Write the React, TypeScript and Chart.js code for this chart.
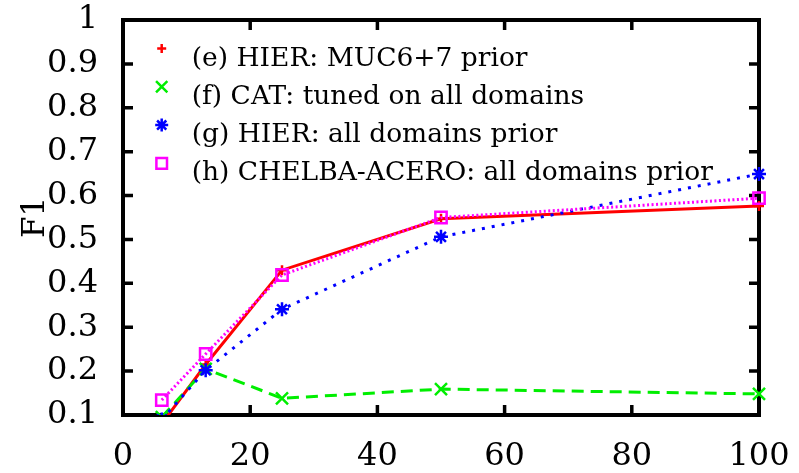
import React, { useEffect, useRef } from "react";
import { Chart, registerables } from "chart.js";

Chart.register(...registerables);

// ---- data ----
const xValues = [6.1, 13, 25, 50, 100];
const hierMucPrior = [0.08, 0.215, 0.43, 0.547, 0.576];
const catTunedAll = [0.095, 0.205, 0.138, 0.159, 0.148];
const hierAllPrior = [0.09, 0.202, 0.341, 0.506, 0.649];
const chelbaAllPrior = [0.134, 0.239, 0.419, 0.55, 0.594];
const seriesLabels = [
  "(e) HIER: MUC6+7 prior",
  "(f) CAT: tuned on all domains",
  "(g) HIER: all domains prior",
  "(h) CHELBA-ACERO: all domains prior",
];
const xTicks = [0, 20, 40, 60, 80, 100];
const yTicks = [0.1, 0.2, 0.3, 0.4, 0.5, 0.6, 0.7, 0.8, 0.9, 1];
const yTitle = "F1";

const SERIF = '"DejaVu Serif", serif';

function drawMarker(ctx: CanvasRenderingContext2D, style: string, x: number, y: number, r: number, color: string, lw: number) {
  ctx.save();
  ctx.strokeStyle = color;
  ctx.lineWidth = lw;
  ctx.setLineDash([]);
  ctx.beginPath();
  if (style === "cross" || style === "star") {
    ctx.moveTo(x - r, y);
    ctx.lineTo(x + r, y);
    ctx.moveTo(x, y - r);
    ctx.lineTo(x, y + r);
  }
  if (style === "crossRot" || style === "star") {
    const d = r * Math.SQRT1_2;
    ctx.moveTo(x - d, y - d);
    ctx.lineTo(x + d, y + d);
    ctx.moveTo(x - d, y + d);
    ctx.lineTo(x + d, y - d);
  }
  if (style === "rect") {
    const d = r * Math.SQRT1_2;
    ctx.rect(x - d, y - d, 2 * d, 2 * d);
  }
  ctx.stroke();
  ctx.restore();
}

const framePlugin = {
  id: "gnuplotFrame",
  beforeDatasetsDraw(chart: any) {
    const { ctx, chartArea } = chart;
    const { left, right, top, bottom } = chartArea;
    ctx.save();
    ctx.strokeStyle = "#000";
    ctx.lineWidth = 4;
    ctx.setLineDash([]);
    ctx.strokeRect(left, top, right - left, bottom - top);
    ctx.lineWidth = 3.5;
    const tl = 10;
    const xs = chart.scales.x;
    const ys = chart.scales.y;
    ctx.beginPath();
    xTicks.forEach((v) => {
      const px = xs.getPixelForValue(v);
      ctx.moveTo(px, bottom);
      ctx.lineTo(px, bottom - tl);
      ctx.moveTo(px, top);
      ctx.lineTo(px, top + tl);
    });
    yTicks.forEach((v) => {
      const py = ys.getPixelForValue(v);
      ctx.moveTo(left, py);
      ctx.lineTo(left + tl, py);
      ctx.moveTo(right, py);
      ctx.lineTo(right - tl, py);
    });
    ctx.stroke();
    ctx.restore();
  },
};

const legendPlugin = {
  id: "insideLegend",
  afterDatasetsDraw(chart: any) {
    const { ctx, chartArea } = chart;
    chart.data.datasets.forEach((ds: any, i: number) => {
      const my = chartArea.top + 28.5 + i * 38.3;
      const mx = chartArea.left + 38.7;
      drawMarker(ctx, ds.pointStyle, mx, my, ds.legendRadius, ds.borderColor, 2.5);
      ctx.save();
      ctx.fillStyle = "#000";
      ctx.font = `26.5px ${SERIF}`;
      ctx.textAlign = "left";
      ctx.textBaseline = "alphabetic";
      ctx.fillText(ds.label, mx + 30, my + 17);
      ctx.restore();
    });
  },
};

function makeSeries(values: number[]) {
  return values.map((v, i) => ({ x: xValues[i], y: v }));
}

export default function App() {
  const ref = useRef<HTMLCanvasElement>(null);

  useEffect(() => {
    if (!ref.current) return;
    const common = {
      fill: false,
      tension: 0,
      borderWidth: 3,
      pointBorderWidth: 2.5,
      pointBackgroundColor: "rgba(0,0,0,0)",
      clip: { left: 0, top: 0, right: 12, bottom: 0 },
    };
    const chart = new Chart(ref.current, {
      type: "line",
      data: {
        datasets: [
          {
            ...common,
            label: seriesLabels[0],
            data: makeSeries(hierMucPrior),
            borderColor: "#ff0000",
            pointBorderColor: "#ff0000",
            pointStyle: "cross",
            pointRadius: 5,
            legendRadius: 4.5,
            order: 4,
          },
          {
            ...common,
            label: seriesLabels[1],
            data: makeSeries(catTunedAll),
            borderColor: "#00ee00",
            pointBorderColor: "#00ee00",
            borderDash: [12, 7],
            pointStyle: "crossRot",
            pointRadius: 8.5,
            legendRadius: 8,
            order: 3,
          },
          {
            ...common,
            label: seriesLabels[2],
            data: makeSeries(hierAllPrior),
            borderColor: "#0000ff",
            pointBorderColor: "#0000ff",
            borderDash: [3, 7],
            pointStyle: "star",
            pointRadius: 7,
            legendRadius: 6.5,
            order: 2,
          },
          {
            ...common,
            label: seriesLabels[3],
            data: makeSeries(chelbaAllPrior),
            borderColor: "#ff00ff",
            pointBorderColor: "#ff00ff",
            borderDash: [2, 2.5],
            pointStyle: "rect",
            pointRadius: 8,
            legendRadius: 7.5,
            order: 1,
          },
        ] as any,
      },
      options: {
        animation: false,
        responsive: false,
        maintainAspectRatio: false,
        layout: { padding: { top: 20, right: 40, left: 0, bottom: 0 } },
        plugins: {
          legend: { display: false },
          tooltip: { enabled: false },
        },
        scales: {
          x: {
            type: "linear",
            min: 0,
            max: 100,
            afterBuildTicks: (s: any) => {
              s.ticks = xTicks.map((v) => ({ value: v }));
            },
            afterFit: (s: any) => {
              s.height = 58;
              s.paddingLeft = 0;
              s.paddingRight = 0;
              s.paddingTop = 0;
              s.paddingBottom = 0;
            },
            grid: { display: false, drawTicks: false },
            border: { display: false },
            ticks: {
              color: "#000",
              font: { family: SERIF, size: 32 },
              padding: 22,
              maxRotation: 0,
              autoSkip: false,
              callback: (v: any) => String(v),
            },
          },
          y: {
            type: "linear",
            min: 0.1,
            max: 1,
            afterBuildTicks: (s: any) => {
              s.ticks = yTicks.map((v) => ({ value: v }));
            },
            afterFit: (s: any) => {
              s.width = 123;
              s.paddingLeft = 0;
              s.paddingRight = 0;
              s.paddingTop = 0;
              s.paddingBottom = 0;
            },
            grid: { display: false, drawTicks: false },
            border: { display: false },
            ticks: {
              color: "#000",
              font: { family: SERIF, size: 32 },
              padding: 25,
              autoSkip: false,
              callback: (v: any) => (Math.abs(v - 1) < 1e-9 ? "1" : Number(v).toFixed(1)),
            },
            title: {
              display: true,
              text: yTitle,
              color: "#000",
              font: { family: SERIF, size: 31 },
              padding: { top: 17, bottom: 0 },
            },
          },
        },
      } as any,
      plugins: [framePlugin, legendPlugin],
    });
    return () => chart.destroy();
  }, []);

  return (
    <div style={{ position: "fixed", left: 0, top: 0, width: 799, height: 473, background: "#fff" }}>
      <canvas ref={ref} width={799} height={473} style={{ width: 799, height: 473, display: "block" }} />
    </div>
  );
}
